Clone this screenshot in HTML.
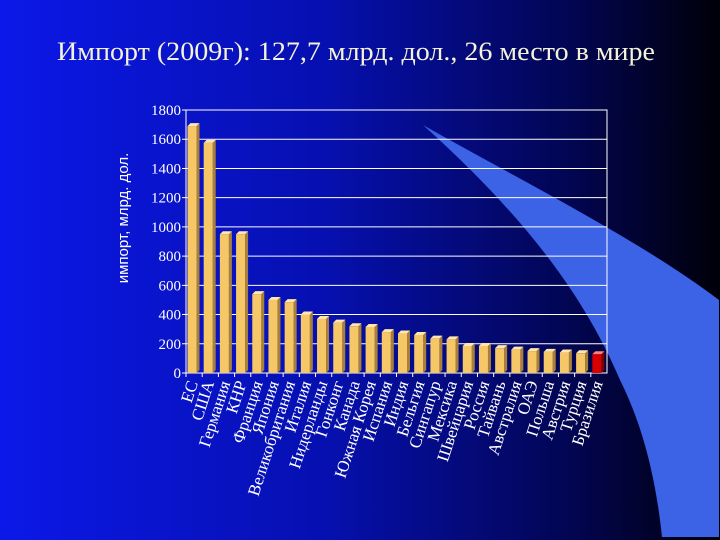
<!DOCTYPE html>
<html><head><meta charset="utf-8"><style>
html,body{margin:0;padding:0;width:720px;height:540px;overflow:hidden}
svg{display:block}
</style></head><body>
<svg width="720" height="540" viewBox="0 0 720 540">
<defs>
<linearGradient id="bg" x1="0" y1="0" x2="1" y2="0">
<stop offset="0" stop-color="#0c18e8"/>
<stop offset="0.45" stop-color="#0610b0"/>
<stop offset="0.8" stop-color="#020550"/>
<stop offset="1" stop-color="#000008"/>
</linearGradient>
</defs>
<rect width="720" height="540" fill="url(#bg)"/>
<path d="M423,125 C520,180 640,240 719,300 L719,537 L662,537 C655,470 640,420 620,380 C590,310 540,230 423,125 Z" fill="#3c62e6"/>
<text x="57" y="60" textLength="598" lengthAdjust="spacingAndGlyphs" font-family="'Liberation Serif',serif" font-size="26" fill="#f4f2d8">Импорт (2009г): 127,7 млрд. дол., 26 место в мире</text>
<g id="chart"></g>
</svg>
<script>
const categories=["ЕС","США","Германия","КНР","Франция","Япония","Великобритания","Италия","Нидерланды","Гонконг","Канада","Южная Корея","Испания","Индия","Бельгия","Сингапур","Мексика","Швейцария","Россия","Тайвань","Австралия","ОАЭ","Польша","Австрия","Турция","Бразилия"];
const values=[1690,1575,950,950,540,500,485,400,370,345,320,315,280,270,260,235,230,185,185,170,160,150,145,140,135,128];
const yTicks=[0,200,400,600,800,1000,1200,1400,1600,1800];
const highlight="Бразилия";

const NS="http://www.w3.org/2000/svg";
const g=document.getElementById('chart');
const X0=186,X1=607,Y0=373,Y1=110,YMAX=1800;
const slot=(X1-X0)/categories.length;
function y(v){return Y0-(v/YMAX)*(Y0-Y1);}
function x(i){return X0+i*slot;}
function mk(t,a,parent){const e=document.createElementNS(NS,t);for(const k in a)e.setAttribute(k,a[k]);(parent||g).appendChild(e);return e;}

const frame=mk('rect',{x:X0,y:Y1,width:X1-X0,height:Y0-Y1,fill:'none',stroke:'#fff','stroke-width':1});


yTicks.forEach(v=>{
  const ln=mk('line',{x1:X0-4,x2:X1,y1:y(v),y2:y(v),stroke:'#fff','stroke-width':1});
  
  
  const t=mk('text',{x:X0-5,y:y(v)+5,'text-anchor':'end','font-family':"'Liberation Serif',serif",'font-size':15,fill:'#fff'});
  t.textContent=v;
  
  
});
const yt=mk('text',{x:0,y:0,transform:'translate(128,218) rotate(-90)','text-anchor':'middle','font-family':"'Liberation Sans',sans-serif",'font-size':15,fill:'#fff'});
yt.textContent='импорт, млрд. дол.';



categories.forEach((c,i)=>{
  const bx=x(i)+1.5,bw=9,d=3,top=y(values[i]);
  const red=c===highlight;
  const front=red?'#d80000':'#f6c766',side=red?'#800000':'#a8803a',tp=red?'#ff8080':'#ffe6b0';
  const grp=mk('g',{});
  
  
  mk('polygon',{points:`${bx+bw},${top} ${bx+bw+d},${top-d} ${bx+bw+d},${Y0-d} ${bx+bw},${Y0}`,fill:side},grp);
  mk('polygon',{points:`${bx},${top} ${bx+d},${top-d} ${bx+bw+d},${top-d} ${bx+bw},${top}`,fill:tp},grp);
  mk('rect',{x:bx,y:top,width:bw,height:Y0-top,fill:front},grp);
  const tk=mk('line',{x1:x(i),x2:x(i),y1:Y0,y2:Y0+4,stroke:'#fff'});
  
  
  const lx=x(i)+slot/2+4,ly=Y0+10;
  const t=mk('text',{x:0,y:0,transform:`translate(${lx},${ly}) rotate(-72)`,'text-anchor':'end','font-family':"'Liberation Serif',serif",'font-size':17,fill:'#fff'});
  t.textContent=c;
  
  
});
</script>
</body></html>
